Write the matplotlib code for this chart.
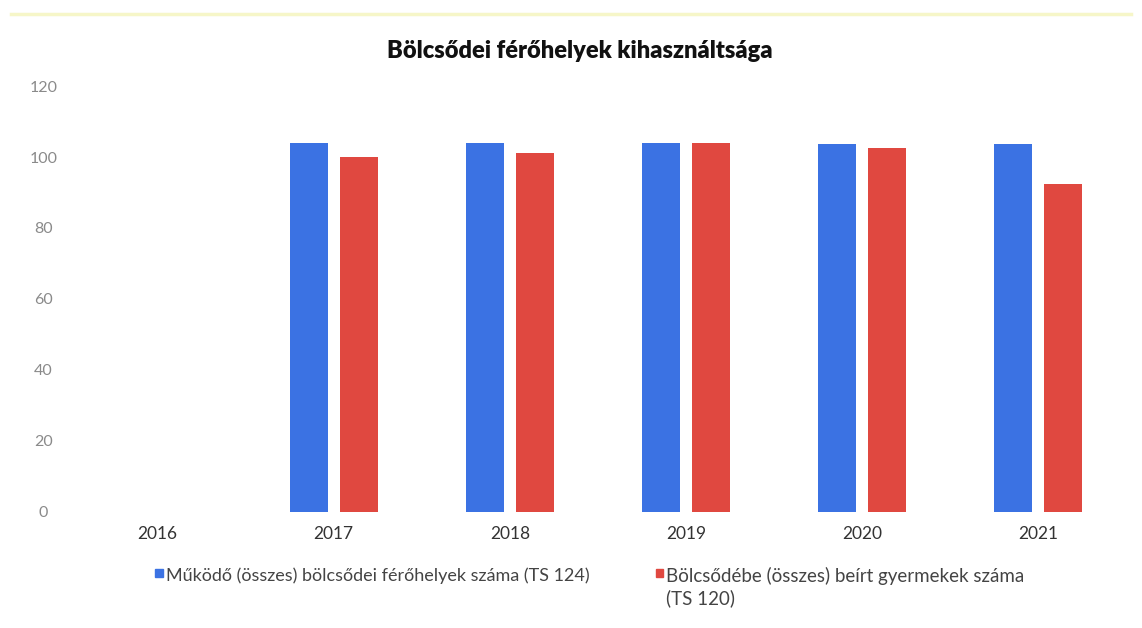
"""
Bölcsődei férőhelyek kihasználtsága - oszlopdiagram
"""
import numpy as np
import matplotlib.pyplot as plt
from matplotlib.lines import Line2D
from matplotlib.patches import Rectangle

years = ['2016', '2017', '2018', '2019', '2020', '2021']
ferohelyek = [np.nan, 104, 104, 104, 103.7, 103.6]
beirt = [np.nan, 100, 101, 104, 102.6, 92.5]

label_ferohely = 'Működő (összes) bölcsődei férőhelyek száma (TS 124)'
label_beirt = 'Bölcsődébe (összes) beírt gyermekek száma\n(TS 120)'

blue = '#3b72e3'
red = '#e04840'

plt.rcParams['font.family'] = ['Lato', 'DejaVu Sans']

fig = plt.figure(figsize=(11.42, 6.28), dpi=100)
ax = fig.add_axes([0.061, 0.185, 0.925, 0.678])

x = np.arange(len(years))
w = 0.215
ax.bar(x - 0.142, ferohelyek, w, color=blue)
ax.bar(x + 0.142, beirt, w, color=red)

ax.set_xlim(-0.5, len(years) - 0.5)
ax.set_ylim(0, 120)
ax.set_yticks(range(0, 121, 20))
ax.set_xticks(x)
ax.set_xticklabels(years, fontsize=12.5, color='#333333')
ax.tick_params(axis='y', labelsize=11.5, labelcolor='#8a8a8a', length=0, pad=19)
ax.tick_params(axis='x', length=0, pad=10)
for lbl in ax.get_yticklabels():
    lbl.set_horizontalalignment('center')
for s in ax.spines.values():
    s.set_visible(False)

fig.text(0.508, 0.918, 'Bölcsődei férőhelyek kihasználtsága',
         ha='center', va='center', fontsize=17, fontweight='heavy', color='#111111')

# legend drawn by hand so the second label can wrap
for lx, c, txt, fs in [(0.136, blue, label_ferohely, 13), (0.574, red, label_beirt, 13.5)]:
    fig.add_artist(Rectangle((lx, 0.075 + 0.006), 0.0065, 0.013,
                             transform=fig.transFigure, color=c))
    fig.text(lx + 0.009, 0.097, txt, ha='left', va='top',
             fontsize=fs, color='#444444', linespacing=1.25)

# pale yellow rule at the top edge
fig.add_artist(Line2D([0.01, 0.99], [0.977, 0.977], transform=fig.transFigure,
                      color='#f6f6c8', lw=2.5))

fig.savefig('out.png', dpi=100, facecolor='white')
